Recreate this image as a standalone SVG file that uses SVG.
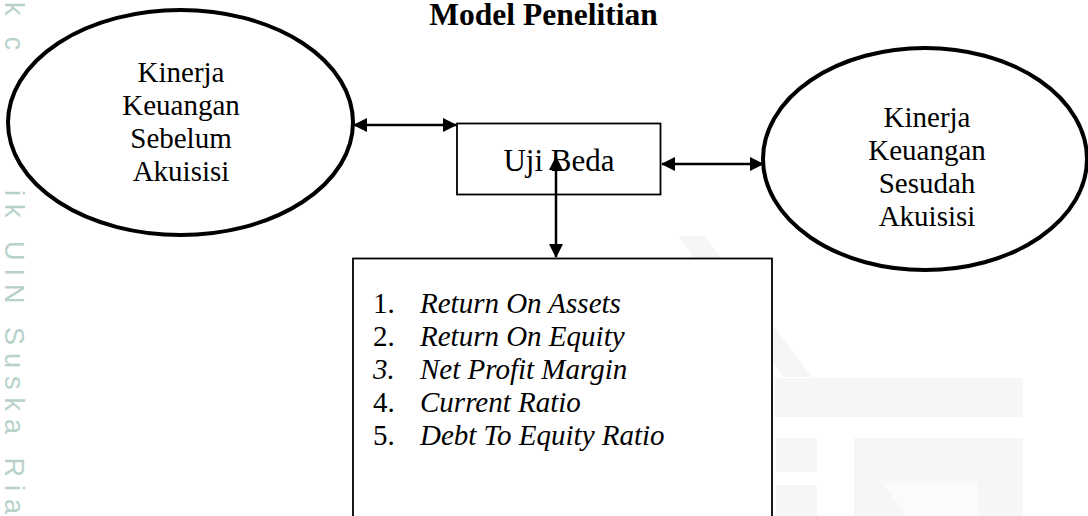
<svg xmlns="http://www.w3.org/2000/svg" width="1088" height="516" viewBox="0 0 1088 516">
<style>
  .serif { font-family: "Liberation Serif", "Times New Roman", serif; fill: #000; }
  .node-text { font-size: 29px; text-anchor: middle; }
  .ell { fill: #fff; stroke: #000; stroke-width: 4; }
  .box { fill: #fff; stroke: #000; stroke-width: 1.8; }
  .conn { stroke: #000; stroke-width: 2.5; fill: none; marker-start: url(#head); marker-end: url(#head); }
  .wm { font-family: "Liberation Sans", Arial, sans-serif; font-size: 27px; fill: #b8d2cb; }
  .logo { fill: #f6f6f4; }
  .list { font-size: 29px; }
</style>
<defs>
  <marker id="head" viewBox="0 0 14 14" refX="13" refY="7" markerWidth="14" markerHeight="14" markerUnits="userSpaceOnUse" orient="auto-start-reverse">
    <path d="M0,0 L14,7 L0,14 Z" fill="#000"/>
  </marker>
</defs>
<rect width="1088" height="516" fill="#fff"/>

<g id="watermark-logo">
  <polygon class="logo" points="678,236 705,236 812,377 783,377"/>
  <rect class="logo" x="775" y="378" width="248" height="39"/>
  <rect class="logo" x="776" y="438" width="41" height="34"/>
  <rect class="logo" x="776" y="485" width="41" height="31"/>
  <rect class="logo" x="854" y="438" width="169" height="78"/>
  <polygon points="883,483 978,483 978,516 905,516" fill="#fbfbfa"/>
</g>

<g id="watermark-text">
  <text class="wm" transform="translate(5,2) rotate(90)" textLength="48" lengthAdjust="spacing">k c</text>
  <text class="wm" transform="translate(5,190) rotate(90)" textLength="324" lengthAdjust="spacing">ik UIN Suska Ria</text>
</g>

<g id="title">
  <text class="serif" x="543.5" y="25" font-size="31.5" font-weight="bold" text-anchor="middle">Model Penelitian</text>
</g>

<g id="node-sebelum">
  <ellipse class="ell" cx="180.5" cy="122.5" rx="172.5" ry="112.5"/>
  <text class="serif node-text" x="181" y="82">Kinerja</text>
  <text class="serif node-text" x="181" y="115">Keuangan</text>
  <text class="serif node-text" x="181" y="148">Sebelum</text>
  <text class="serif node-text" x="181" y="181">Akuisisi</text>
</g>

<g id="node-sesudah">
  <ellipse class="ell" cx="925" cy="159" rx="162" ry="111"/>
  <text class="serif node-text" x="927" y="127">Kinerja</text>
  <text class="serif node-text" x="927" y="160">Keuangan</text>
  <text class="serif node-text" x="927" y="193">Sesudah</text>
  <text class="serif node-text" x="927" y="226">Akuisisi</text>
</g>

<g id="node-ujibeda">
  <rect class="box" x="457" y="123.5" width="203.5" height="71"/>
  <text class="serif" x="559" y="171" font-size="31" text-anchor="middle">Uji Beda</text>
</g>

<g id="node-rasio">
  <rect class="box" x="353" y="258.5" width="419" height="270" stroke="#222"/>
  <g class="serif list">
    <text x="373" y="313">1.</text>
    <text x="420" y="313" font-style="italic">Return On Assets</text>
    <text x="373" y="346">2.</text>
    <text x="420" y="346" font-style="italic">Return On Equity</text>
    <text x="373" y="379" font-style="italic">3.</text>
    <text x="420" y="379" font-style="italic">Net Profit Margin</text>
    <text x="373" y="412">4.</text>
    <text x="420" y="412" font-style="italic">Current Ratio</text>
    <text x="373" y="445">5.</text>
    <text x="420" y="445" font-style="italic">Debt To Equity Ratio</text>
  </g>
</g>

<g id="connectors">
  <line class="conn" x1="354" y1="125" x2="456" y2="125"/>
  <line class="conn" x1="662" y1="164" x2="763" y2="164"/>
  <line class="conn" x1="556" y1="257" x2="556" y2="157"/>
</g>
</svg>
